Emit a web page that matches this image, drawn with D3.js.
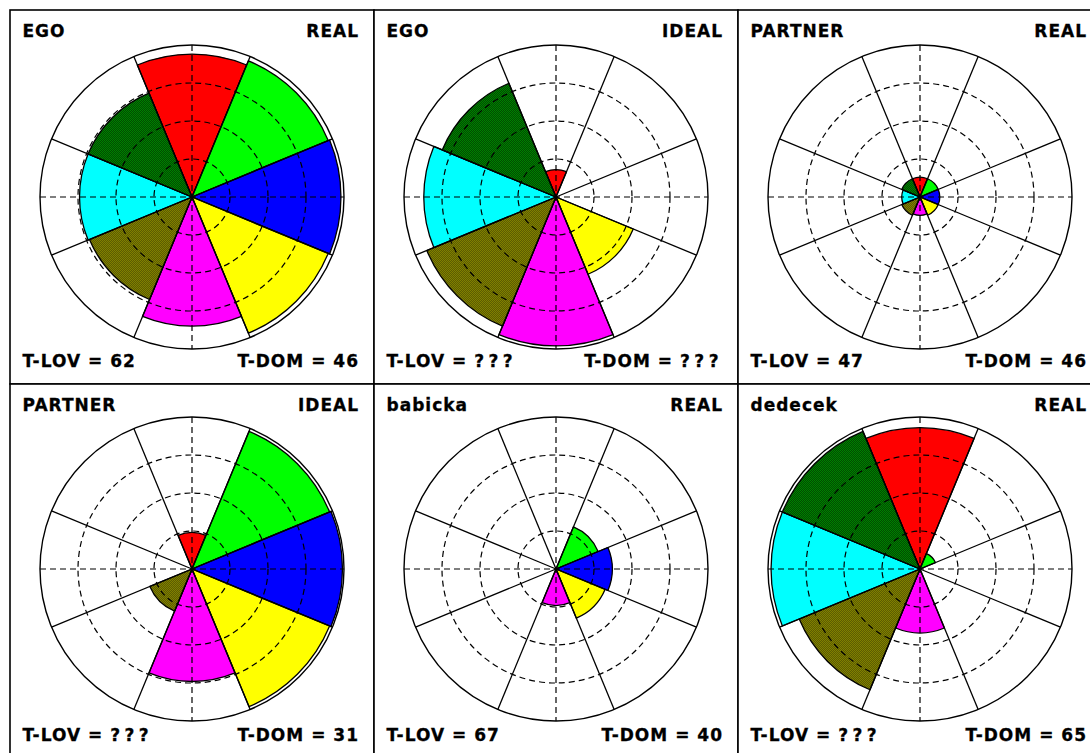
<!DOCTYPE html>
<html>
<head>
<meta charset="utf-8">
<script src="https://d3js.org/d3.v7.min.js"></script>
<style>
body {
  margin: 0;
  background: white;
}
text {
  font-family: "DejaVu Sans", sans-serif;
  font-weight: bold;
  font-size: 17px;
  letter-spacing: 1px;
  fill: black;
  stroke: black;
  stroke-width: 0.3px;
}
</style>
</head>
<body>
<div id="chart"></div>
<script>
//data (octant scores, % of full radius)________________________
var octants = ["red", "lime", "blue", "yellow", "magenta", "olive", "cyan", "darkgreen"];
var whoLabels = ["EGO", "EGO", "PARTNER", "PARTNER", "babicka", "dedecek"];
var kindLabels = ["REAL", "IDEAL", "REAL", "IDEAL", "REAL", "REAL"];
var tLov = ["62", "???", "47", "???", "67", "???"];
var tDom = ["46", "???", "46", "31", "40", "65"];

var egoReal      = [94, 97, 98, 97, 85, 73, 74, 74];
var egoIdeal     = [18, 0, 0, 55, 98, 92, 87, 81];
var partnerReal  = [13, 13, 13, 13, 12, 13, 12, 13];
var partnerIdeal = [24, 98, 99, 98, 74, 30, 0, 0];
var babickaReal  = [0, 30, 37, 35, 24, 0, 0, 0];
var dedecekReal  = [93, 11, 0, 0, 42, 86, 98, 98];
var panelValues = [egoReal, egoIdeal, partnerReal, partnerIdeal, babickaReal, dedecekReal];

var rings = [25, 50, 75];
//______________________________________________________________

var WIDTH = 1090;
var HEIGHT = 753;
var CELL_W = 364;
var CELL_H = 374;
var X0 = 10;
var Y0 = 10;
var RADIUS = 152;

var svg = d3.select("#chart").append("svg")
  .attr("width", WIDTH)
  .attr("height", HEIGHT);

var defs = svg.append("defs");
function dither(id, c1, c2) {
  var p = defs.append("pattern")
    .attr("id", id)
    .attr("width", 2)
    .attr("height", 2)
    .attr("patternUnits", "userSpaceOnUse");
  p.append("rect").attr("width", 2).attr("height", 2).attr("fill", c1);
  p.append("rect").attr("width", 1).attr("height", 1).attr("fill", c2);
  p.append("rect").attr("x", 1).attr("y", 1).attr("width", 1).attr("height", 1).attr("fill", c2);
}
dither("ditherOlive", "#808000", "#5c5c00");
dither("ditherGreen", "#008000", "#004d00");

var fills = {
  red: "#ff0000", lime: "#00ff00", blue: "#0000ff", yellow: "#ffff00",
  magenta: "#ff00ff", olive: "url(#ditherOlive)", cyan: "#00ffff", darkgreen: "url(#ditherGreen)"
};

var r = d3.scaleLinear().domain([0, 100]).range([0, RADIUS]);
var angle = d3.scaleBand()
  .domain(octants)
  .range([-Math.PI / 8, 2 * Math.PI - Math.PI / 8]);

var arc = d3.arc()
  .innerRadius(0)
  .startAngle(function(d) { return angle(d.key); })
  .endAngle(function(d) { return angle(d.key) + angle.bandwidth(); })
  .outerRadius(function(d) { return r(d.value); });

//panels________________________________________________________
panelValues.forEach(function(values, i) {
  var col = i % 3;
  var row = Math.floor(i / 3);
  var panel = svg.append("g")
    .attr("transform", "translate(" + (X0 + col * CELL_W) + "," + (Y0 + row * CELL_H) + ")");

  panel.append("rect")
    .attr("width", CELL_W)
    .attr("height", CELL_H)
    .attr("fill", "white")
    .attr("stroke", "black")
    .attr("stroke-width", 1.6);

  var g = panel.append("g")
    .attr("transform", "translate(" + (CELL_W / 2) + "," + (row == 0 ? 187 : 185) + ")");

  var data = octants.map(function(k, j) { return {key: k, value: values[j]}; })
    .filter(function(d) { return d.value > 0; });

  g.selectAll("path.sector")
    .data(data)
    .enter().append("path")
      .attr("class", "sector")
      .attr("d", arc)
      .attr("fill", function(d) { return fills[d.key]; })
      .attr("stroke", "black")
      .attr("stroke-width", 1.3)
      .attr("stroke-linejoin", "round");

  // dashed grid
  g.selectAll("circle.ring")
    .data(rings)
    .enter().append("circle")
      .attr("class", "ring")
      .attr("r", function(d) { return r(d); })
      .attr("fill", "none")
      .attr("stroke", "black")
      .attr("stroke-width", 1.2)
      .attr("stroke-dasharray", "6,4");
  g.append("line")
    .attr("x1", -r(100)).attr("x2", r(100))
    .attr("stroke", "black").attr("stroke-width", 1.2).attr("stroke-dasharray", "6,4");
  g.append("line")
    .attr("y1", -r(100)).attr("y2", r(100))
    .attr("stroke", "black").attr("stroke-width", 1.2).attr("stroke-dasharray", "6,4");

  // solid octant borders
  g.selectAll("line.spoke")
    .data(octants)
    .enter().append("line")
      .attr("class", "spoke")
      .attr("x2", function(d) { return r(100) * Math.sin(angle(d)); })
      .attr("y2", function(d) { return -r(100) * Math.cos(angle(d)); })
      .attr("stroke", "black")
      .attr("stroke-width", 1.3);
  g.append("circle")
    .attr("r", r(100))
    .attr("fill", "none")
    .attr("stroke", "black")
    .attr("stroke-width", 1.4);

  // labels
  panel.append("text").attr("x", 12.5).attr("y", 26.5).text(whoLabels[i]);
  panel.append("text").attr("x", CELL_W - 15).attr("y", 26.5)
    .attr("text-anchor", "end").text(kindLabels[i]);

  var lov = panel.append("text").attr("x", 12.5).attr("y", 357);
  lov.append("tspan").text("T-LOV = ");
  lov.append("tspan").style("letter-spacing", tLov[i] == "???" ? "4.5px" : null).text(tLov[i]);

  var dom = panel.append("text").attr("x", CELL_W - 15).attr("y", 357).attr("text-anchor", "end");
  dom.append("tspan").text("T-DOM = ");
  dom.append("tspan").style("letter-spacing", tDom[i] == "???" ? "4.5px" : null).text(tDom[i]);
});
</script>
</body>
</html>
